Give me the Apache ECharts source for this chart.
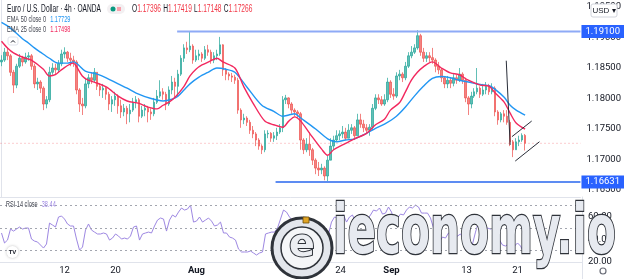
<!DOCTYPE html>
<html><head><meta charset="utf-8">
<script src="https://cdn.jsdelivr.net/npm/echarts@6/dist/echarts.min.js"></script>
<style>html,body{margin:0;padding:0;background:#fff}#c{width:624px;height:279px}</style>
</head><body><div id="c"></div>
<script>
// ---- candle data (EUR/USD, one candle per slot) ----
const opens = [1.1860,1.1863,1.1876,1.1870,1.1843,1.1822,1.1853,1.1866,1.1860,1.1868,
1.1870,1.1853,1.1824,1.1827,1.1817,1.1791,1.1798,1.1843,1.1850,1.1847,
1.1857,1.1873,1.1876,1.1866,1.1863,1.1860,1.1814,1.1791,1.1788,1.1824,
1.1834,1.1830,1.1843,1.1820,1.1814,1.1817,1.1807,1.1791,1.1798,1.1804,
1.1788,1.1778,1.1784,1.1775,1.1781,1.1794,1.1798,1.1771,1.1781,1.1784,
1.1778,1.1775,1.1794,1.1804,1.1811,1.1807,1.1791,1.1814,1.1827,1.1820,
1.1840,1.1866,1.1883,1.1880,1.1886,1.1863,1.1870,1.1873,1.1866,1.1880,
1.1876,1.1863,1.1870,1.1873,1.1888,1.1847,1.1840,1.1837,1.1835,1.1830,
1.1781,1.1765,1.1768,1.1761,1.1748,1.1742,1.1732,1.1722,1.1716,1.1742,
1.1743,1.1735,1.1739,1.1745,1.1752,1.1798,1.1801,1.1791,1.1781,1.1778,
1.1775,1.1732,1.1716,1.1725,1.1716,1.1699,1.1686,1.1683,1.1686,1.1673,
1.1699,1.1722,1.1732,1.1739,1.1742,1.1745,1.1735,1.1748,1.1752,1.1739,
1.1765,1.1758,1.1752,1.1748,1.1753,1.1784,1.1801,1.1798,1.1791,1.1798,
1.1827,1.1807,1.1804,1.1837,1.1840,1.1834,1.1853,1.1870,1.1876,1.1883,
1.1903,1.1876,1.1866,1.1870,1.1867,1.1863,1.1853,1.1847,1.1834,1.1824,
1.1830,1.1825,1.1834,1.1830,1.1840,1.1830,1.1801,1.1791,1.1804,1.1811,
1.1817,1.1807,1.1814,1.1820,1.1811,1.1817,1.1778,1.1765,1.1775,1.1771,
1.1761,1.1729,1.1716,1.1729,1.1732,1.17396];
const closes = [1.1863,1.1876,1.1870,1.1843,1.1822,1.1853,1.1866,1.1860,1.1868,1.1870,
1.1853,1.1824,1.1827,1.1817,1.1791,1.1798,1.1843,1.1850,1.1847,1.1857,
1.1873,1.1876,1.1866,1.1863,1.1860,1.1814,1.1791,1.1788,1.1824,1.1834,
1.1830,1.1843,1.1820,1.1814,1.1817,1.1807,1.1791,1.1798,1.1804,1.1788,
1.1778,1.1784,1.1775,1.1781,1.1794,1.1798,1.1771,1.1781,1.1784,1.1778,
1.1775,1.1794,1.1804,1.1811,1.1807,1.1791,1.1814,1.1827,1.1820,1.1840,
1.1866,1.1883,1.1880,1.1886,1.1863,1.1870,1.1873,1.1866,1.1880,1.1876,
1.1863,1.1870,1.1873,1.1888,1.1847,1.1840,1.1837,1.1835,1.1830,1.1781,
1.1765,1.1768,1.1761,1.1748,1.1742,1.1732,1.1722,1.1716,1.1742,1.1743,
1.1735,1.1739,1.1745,1.1752,1.1798,1.1801,1.1791,1.1781,1.1778,1.1775,
1.1732,1.1716,1.1725,1.1716,1.1699,1.1686,1.1683,1.1686,1.1673,1.1699,
1.1722,1.1732,1.1739,1.1742,1.1745,1.1735,1.1748,1.1752,1.1739,1.1765,
1.1758,1.1752,1.1748,1.1753,1.1784,1.1801,1.1798,1.1791,1.1798,1.1827,
1.1807,1.1804,1.1837,1.1840,1.1834,1.1853,1.1870,1.1876,1.1883,1.1903,
1.1876,1.1866,1.1870,1.1867,1.1863,1.1853,1.1847,1.1834,1.1824,1.1830,
1.1825,1.1834,1.1830,1.1840,1.1830,1.1801,1.1791,1.1804,1.1811,1.1817,
1.1807,1.1814,1.1820,1.1811,1.1817,1.1778,1.1765,1.1775,1.1771,1.1761,
1.1729,1.1716,1.1729,1.1732,1.17396,1.17266];
const highs = [1.1871,1.1883,1.1884,1.1873,1.1847,1.1857,1.1873,1.1870,1.1875,1.1876,
1.1873,1.1857,1.1834,1.1830,1.1820,1.1804,1.1852,1.1858,1.1857,1.1863,
1.1880,1.1884,1.1878,1.1875,1.1870,1.1863,1.1817,1.1801,1.1834,1.1840,
1.1843,1.1850,1.1843,1.1825,1.1824,1.1820,1.1811,1.1804,1.1811,1.1807,
1.1798,1.1791,1.1788,1.1791,1.1801,1.1804,1.1801,1.1788,1.1791,1.1788,
1.1784,1.1801,1.1814,1.1830,1.1817,1.1811,1.1820,1.1837,1.1834,1.1847,
1.1871,1.1889,1.1893,1.1909,1.1889,1.1880,1.1880,1.1876,1.1886,1.1888,
1.1880,1.1876,1.1880,1.1901,1.1889,1.1850,1.1843,1.1842,1.1839,1.1834,
1.1784,1.1775,1.1771,1.1765,1.1755,1.1745,1.1735,1.1725,1.1748,1.1748,
1.1745,1.1745,1.1752,1.1758,1.1804,1.1806,1.1802,1.1794,1.1784,1.1781,
1.1778,1.1735,1.1735,1.1745,1.1719,1.1702,1.1696,1.1693,1.1689,1.1706,
1.1735,1.1739,1.1748,1.1748,1.1755,1.1752,1.1758,1.1758,1.1755,1.1775,
1.1775,1.1765,1.1758,1.1758,1.1791,1.1807,1.1807,1.1804,1.1807,1.1834,
1.1830,1.1817,1.1843,1.1847,1.1843,1.1860,1.1876,1.1886,1.1889,1.1912,
1.1906,1.1883,1.1876,1.1876,1.1883,1.1866,1.1860,1.1850,1.1837,1.1837,
1.1834,1.1840,1.1839,1.1850,1.1843,1.1834,1.1804,1.1811,1.1817,1.1850,
1.1820,1.1824,1.1827,1.1824,1.1825,1.1820,1.1781,1.1778,1.1781,1.1781,
1.1765,1.1732,1.1735,1.1739,1.1743,1.17419];
const lows = [1.1853,1.1860,1.1863,1.1837,1.1809,1.1817,1.1850,1.1853,1.1857,1.1862,
1.1847,1.1817,1.1814,1.1809,1.1781,1.1784,1.1794,1.1839,1.1840,1.1843,
1.1853,1.1866,1.1860,1.1853,1.1852,1.1807,1.1778,1.1773,1.1784,1.1817,
1.1824,1.1827,1.1814,1.1804,1.1801,1.1798,1.1781,1.1778,1.1788,1.1775,
1.1768,1.1771,1.1758,1.1761,1.1778,1.1784,1.1761,1.1768,1.1771,1.1761,
1.1765,1.1771,1.1791,1.1801,1.1798,1.1781,1.1788,1.1807,1.1801,1.1804,
1.1837,1.1860,1.1873,1.1876,1.1857,1.1860,1.1863,1.1860,1.1863,1.1870,
1.1857,1.1858,1.1863,1.1870,1.1837,1.1830,1.1830,1.1827,1.1824,1.1775,
1.1752,1.1758,1.1755,1.1742,1.1735,1.1722,1.1716,1.1709,1.1712,1.1735,
1.1729,1.1729,1.1732,1.1742,1.1745,1.1791,1.1784,1.1775,1.1771,1.1768,
1.1716,1.1709,1.1712,1.1706,1.1691,1.1676,1.1673,1.1676,1.1666,1.16635,
1.1699,1.1716,1.1729,1.1732,1.1735,1.1732,1.1735,1.1742,1.1732,1.1739,
1.1752,1.1745,1.1742,1.1739,1.1748,1.1781,1.1791,1.1788,1.1788,1.1794,
1.1801,1.1798,1.1801,1.1830,1.1827,1.1830,1.1850,1.1866,1.1873,1.1880,
1.1870,1.1860,1.1860,1.1860,1.1857,1.1843,1.1840,1.1827,1.1817,1.1817,
1.1817,1.1820,1.1824,1.1827,1.1824,1.1794,1.1773,1.1784,1.1801,1.1807,
1.1801,1.1804,1.1807,1.1806,1.1807,1.1771,1.1757,1.1761,1.1761,1.1757,
1.1722,1.1704,1.1716,1.1722,1.1729,1.17148];

const ema25 = [[0,1.1894],[2,1.1883],[4,1.1875],[8,1.1866],[10,1.1863],[14,1.1848],[16,1.1837],[18,1.1839],[20,1.1847],[24,1.1858],[25,1.1853],[27,1.1837],[29,1.1830],[31,1.1827],[35,1.1819],[39,1.1804],[42,1.1796],[46,1.1792],[49,1.1786],[52,1.1783],[54,1.1789],[56,1.1794],[58,1.1802],[61,1.1820],[63,1.1837],[65,1.1848],[67,1.1855],[70,1.1862],[72,1.1866],[74,1.1860],[78,1.1850],[81,1.1819],[84,1.1793],[88,1.1763],[91,1.1757],[94,1.1753],[96,1.1763],[98,1.1770],[100,1.1763],[103,1.1743],[107,1.1717],[109,1.1707],[111,1.1716],[114,1.1724],[116,1.1729],[118,1.1734],[122,1.1743],[125,1.1757],[128,1.1766],[130,1.1781],[133,1.1793],[135,1.1811],[137,1.1830],[139,1.1843],[141,1.1852],[144,1.1860],[147,1.1850],[150,1.1842],[153,1.1839],[156,1.1830],[160,1.1822],[163,1.1820],[165,1.1809],[168,1.1794],[170,1.1776],[172,1.1760],[175,1.17498]];
const ema50 = [[0,1.1925],[2,1.1919],[5,1.1907],[7,1.1898],[9,1.1891],[11,1.1883],[13,1.1876],[16,1.1866],[19,1.1858],[22,1.1858],[24,1.1860],[28,1.1845],[32,1.1840],[35,1.1834],[39,1.1824],[42,1.1817],[45,1.1809],[50,1.1800],[54,1.1796],[57,1.1799],[59,1.1804],[61,1.1814],[63,1.1824],[66,1.1835],[69,1.1843],[72,1.1850],[75,1.1848],[78,1.1843],[82,1.1819],[87,1.1789],[91,1.1779],[94,1.1771],[96,1.1773],[98,1.1775],[100,1.1768],[105,1.1750],[109,1.1734],[112,1.1729],[115,1.1732],[118,1.1734],[122,1.1743],[125,1.1751],[128,1.1758],[132,1.1771],[135,1.1786],[138,1.1804],[141,1.1820],[144,1.1833],[147,1.1836],[150,1.1834],[153,1.1830],[156,1.1827],[160,1.1823],[163,1.1821],[165,1.1815],[168,1.1802],[170,1.1789],[172,1.1781],[175,1.17729]];
const rsi = [45.6,36.7,39.3,49.1,47.3,49.1,50.9,49.1,50,50,
40.2,38.4,37.6,34.9,32.2,35.8,54.4,52.7,50.9,59.8,
60.7,58,53.6,51.8,51.8,40.2,30.4,33.1,48.2,53.6,
48.2,46.4,44.7,44.7,45.6,44.7,39.3,41.1,44.7,42.9,
40.2,41.1,40.2,42.9,50.9,51.8,39.3,44.7,45.6,46.4,
45.6,51.8,57.1,58.9,58,47.3,57.1,61.6,59.8,64.2,
67.8,66,66.9,70.4,55.3,56.2,59.8,55.3,57.1,58.9,
56.2,51.8,52.7,55.3,45.6,45.6,42,41.1,39.3,31.3,
28.7,28.7,28.7,29.6,27.8,26,27.8,28.7,44.7,45.6,
46.4,46.4,50,58,66,64.2,59.8,57.1,55.3,52.7,
47.3,41.1,42,37.6,34,32.2,34,39.3,36.7,44.7,
55.3,59.8,58.9,60.7,61.6,55.3,59.8,61.6,55.3,54.4,
57.1,55.3,58,61.6,66,65.1,67.8,62.4,63.3,68.7,
64.2,56.2,58.9,62.4,61.6,66,68.7,67.8,70.4,68.7,
63.3,63.3,63.3,58.9,50,44.7,37.6,42,41.1,45.6,
46.4,42,42.9,44.7,40.2,34.9,32.2,35.8,46.4,55.3,
48.2,49.1,50,49.1,50,46.4,39.3,34.9,34,35.8,
33.1,34,36.7,34,28.7,38.44];
const rsiLevels = [70, 50, 30];

// ---- axis ticks ----
const slotCount = 194;
const tickIdx = [21, 38, 65, 96, 113, 130, 155, 172];
const tickText = ['12', '20', 'Aug', '17', '24', 'Sep', '13', '21'];

// ---- drawings ----
const levels = [1.19100, 1.16631];
const levelStart = [58.7, 91.6];
const lastPrice = 1.17266;
const trendLines = [
  [[168.7, 1.1862], [170.0, 1.1724]],
  [[170.6, 1.17375], [177.2, 1.17631]],
  [[171.7, 1.16975], [179.8, 1.17292]]
];
const ohlcLast = ['1.17396', '1.17419', '1.17148', '1.17266'];

const slots = Array.from({length: slotCount}, (_, i) => String(i));
const candles = closes.map((c, i) => [opens[i], c, lows[i], highs[i]]);
const xEnd = slotCount - 0.5;

const UP = '#26a69a', DN = '#ef5350';
const chart = echarts.init(document.getElementById('c'), null, {renderer: 'canvas'});
const axisTxt = {color: '#131722', fontSize: 9.5, fontFamily: 'Roboto'};

function levelSeries(k, lineColor) {
  return {
    type: 'line', xAxisIndex: 2, yAxisIndex: 0, silent: true, symbol: 'none', z: 4,
    data: [[levelStart[k], levels[k]], [xEnd, levels[k]]],
    lineStyle: {color: lineColor, width: 2},
    endLabel: {show: true, formatter: () => levels[k].toFixed(5), color: '#fff', backgroundColor: '#2962ff',
      padding: [2, 4, 1, 4], fontSize: 9.5, fontFamily: 'Roboto', distance: 1}
  };
}

const option = {
  animation: false,
  backgroundColor: '#ffffff',
  grid: [
    {left: 0, right: 42, top: 0, height: 197},
    {left: 0, right: 42, top: 197, height: 65}
  ],
  xAxis: [
    {type: 'category', gridIndex: 0, data: slots, boundaryGap: true,
     axisLine: {show: true, lineStyle: {color: '#e0e3eb'}}, axisTick: {show: false}, axisLabel: {show: false}, splitLine: {show: false}},
    {type: 'category', gridIndex: 1, data: slots, boundaryGap: true,
     axisLine: {show: true, lineStyle: {color: '#e0e3eb'}}, axisTick: {show: false}, splitLine: {show: false},
     axisLabel: Object.assign({}, axisTxt, {margin: 4,
       interval: (idx) => tickIdx.indexOf(idx) >= 0,
       formatter: (v, idx) => { const k = tickIdx.indexOf(Number(v)); const t = k >= 0 ? tickText[k] : ''; return (t === 'Aug' || t === 'Sep') ? '{b|' + t + '}' : t; },
       rich: {b: {fontWeight: 'bold', fontSize: 9.5, color: '#131722', fontFamily: 'Roboto'}}})},
    {type: 'value', gridIndex: 0, min: -0.5, max: xEnd, show: false}
  ],
  yAxis: [
    {type: 'value', gridIndex: 0, position: 'right', min: 1.16386, max: 1.19615, splitNumber: 6, scale: true,
     axisLine: {show: true, lineStyle: {color: '#e0e3eb'}}, axisTick: {show: false}, splitLine: {show: false},
     axisLabel: Object.assign({}, axisTxt, {margin: 6, showMinLabel: false, showMaxLabel: false, formatter: v => v.toFixed(5)})},
    {type: 'value', gridIndex: 1, position: 'right', min: 19.8, max: 77.6, splitNumber: 3,
     axisLine: {show: true, lineStyle: {color: '#e0e3eb'}}, axisTick: {show: false}, splitLine: {show: false},
     axisLabel: Object.assign({}, axisTxt, {margin: 6, showMinLabel: false, showMaxLabel: false, formatter: v => v.toFixed(2)})}
  ],
  series: [
    {type: 'line', xAxisIndex: 2, yAxisIndex: 0, silent: true, symbol: 'none', z: 1,
     data: [[-0.5, lastPrice], [xEnd, lastPrice]], lineStyle: {color: 'rgba(242,54,69,0.25)', width: 1, type: [2, 2]}},
    {type: 'candlestick', xAxisIndex: 0, yAxisIndex: 0, data: candles, barWidth: 2, z: 2,
     itemStyle: {color: UP, color0: DN, borderColor: UP, borderColor0: DN, borderWidth: 1, opacity: 0.72}},
    {type: 'line', xAxisIndex: 2, yAxisIndex: 0, data: ema50, symbol: 'none', smooth: 0.3, silent: true, z: 3,
     lineStyle: {color: '#2196f3', width: 1.4}},
    {type: 'line', xAxisIndex: 2, yAxisIndex: 0, data: ema25, symbol: 'none', smooth: 0.3, silent: true, z: 3,
     lineStyle: {color: '#f2285e', width: 1.4}},
    levelSeries(0, '#8eaaf6'),
    levelSeries(1, '#5d8cf2'),
    ...trendLines.map(t => ({type: 'line', xAxisIndex: 2, yAxisIndex: 0, data: t, symbol: 'none', silent: true, z: 5,
      lineStyle: {color: '#2a2e39', width: 1}})),
    {type: 'line', xAxisIndex: 1, yAxisIndex: 1, data: rsi, symbol: 'none', silent: true, z: 3,
     lineStyle: {color: '#9d87e2', width: 1},
     markLine: {silent: true, symbol: 'none', label: {show: false},
       lineStyle: {color: '#a3a6af', width: 1, type: [2, 3]},
       data: rsiLevels.map(v => ({yAxis: v}))}}
  ],
  graphic: [
    // legend
    {type: 'text', x: 7, y: 9, scaleX: 0.66, z: 50, style: {text: 'Euro / U.S. Dollar · 4h · OANDA', fill: '#131722', font: '10px "Liberation Sans"', verticalAlign: 'middle'}},
    {type: 'rect', z: 50, shape: {x: 107, y: 4, width: 18, height: 10, r: 5}, style: {fill: '#f3f0f2'}},
    {type: 'circle', z: 51, shape: {cx: 113, cy: 9, r: 2.5}, style: {fill: '#089981'}},
    {type: 'rect', z: 51, shape: {x: 117, y: 7, width: 4, height: 4}, style: {fill: '#f7a1ac'}},
    {type: 'text', x: 132, y: 9, scaleX: 0.66, z: 50, style: {
      text: '{g|O}{r|' + ohlcLast[0] + '} {g|H}{r|' + ohlcLast[1] + '} {g|L}{r|' + ohlcLast[2] + '} {g|C}{r|' + ohlcLast[3] + '}',
      verticalAlign: 'middle', rich: {g: {fill: '#131722', font: '10px "Liberation Sans"'}, r: {fill: '#f23645', font: '10px "Liberation Sans"'}}}},
    {type: 'text', x: 7, y: 19.5, scaleX: 0.62, z: 50, style: {
      text: '{g|EMA 50 close 0}  {b|' + ema50[ema50.length - 1][1].toFixed(5) + '}', verticalAlign: 'middle',
      rich: {g: {fill: '#434651', font: '9px "Liberation Sans"'}, b: {fill: '#2196f3', font: '9px "Liberation Sans"'}}}},
    {type: 'text', x: 7, y: 29.5, scaleX: 0.62, z: 50, style: {
      text: '{g|EMA 25 close 0}  {b|' + ema25[ema25.length - 1][1].toFixed(5) + '}', verticalAlign: 'middle',
      rich: {g: {fill: '#434651', font: '9px "Liberation Sans"'}, b: {fill: '#f2285e', font: '9px "Liberation Sans"'}}}},
    {type: 'rect', z: 50, shape: {x: 8, y: 37, width: 10, height: 8, r: 2}, style: {fill: '#fff', stroke: '#e0e3eb'}},
    {type: 'polyline', z: 51, shape: {points: [[11, 42.5], [13, 40.5], [15, 42.5]]}, style: {stroke: '#131722', lineWidth: 1, fill: null}},
    {type: 'text', x: 6, y: 205, scaleX: 0.62, z: 50, style: {
      text: '{g|RSI 14 close}  {b|' + rsi[rsi.length - 1].toFixed(2) + '}', verticalAlign: 'middle',
      rich: {g: {fill: '#434651', font: '9px "Liberation Sans"'}, b: {fill: '#9d87e2', font: '9px "Liberation Sans"'}}}},
    // TV badge
    {type: 'circle', z: 50, shape: {cx: 12.5, cy: 252, r: 6}, style: {fill: '#fff', shadowBlur: 3, shadowColor: 'rgba(0,0,0,0.25)'}},
    {type: 'text', x: 12.5, y: 252, z: 51, style: {text: 'TV', fill: '#131722', font: 'bold 6px "Liberation Sans"', align: 'center', verticalAlign: 'middle'}},
    // USD box & gear
    {type: 'rect', z: 50, shape: {x: 591, y: 4, width: 26, height: 13, r: 2}, style: {fill: '#fff', stroke: '#d1d4dc'}},
    {type: 'text', x: 604, y: 10.5, z: 51, style: {text: 'USD ▾', fill: '#131722', font: '8px "Liberation Sans"', align: 'center', verticalAlign: 'middle'}},
    {type: 'line', z: 10, shape: {x1: 582.5, y1: 262, x2: 582.5, y2: 279}, style: {stroke: '#e0e3eb'}},
    {type: 'circle', z: 50, shape: {cx: 603, cy: 271, r: 3}, style: {fill: null, stroke: '#6a6d78', lineWidth: 1.2}},
    // watermark
    {type: 'group', z: 100, children: [
      {type: 'circle', z: 100, shape: {cx: 302, cy: 248, r: 30}, style: {fill: '#e3e6ec', stroke: '#2f333a', lineWidth: 3}},
      {type: 'circle', z: 101, shape: {cx: 302, cy: 248, r: 21}, style: {fill: '#f5f6f8', stroke: '#2f333a', lineWidth: 1.5}},
      {type: 'text', z: 102, x: 302, y: 246, style: {text: 'e', font: 'bold 38px "DejaVu Sans"', fill: '#eceef2', stroke: '#2f333a', lineWidth: 2, align: 'center', verticalAlign: 'middle'}},
      {type: 'rect', z: 103, shape: {x: 303, y: 217, width: 6, height: 6}, style: {fill: '#e0a424', stroke: '#6b4b0c', lineWidth: 0.8}},
      {type: 'text', z: 102, x: 333, y: 235, scaleX: 0.62, style: {text: 'ieconomy.io', font: 'bold 68px "DejaVu Sans"', fill: '#e7eaf0', stroke: '#2f333a', lineWidth: 2.5, align: 'left', verticalAlign: 'middle'}}
    ]}
  ]
};
chart.setOption(option);
</script></body></html>
